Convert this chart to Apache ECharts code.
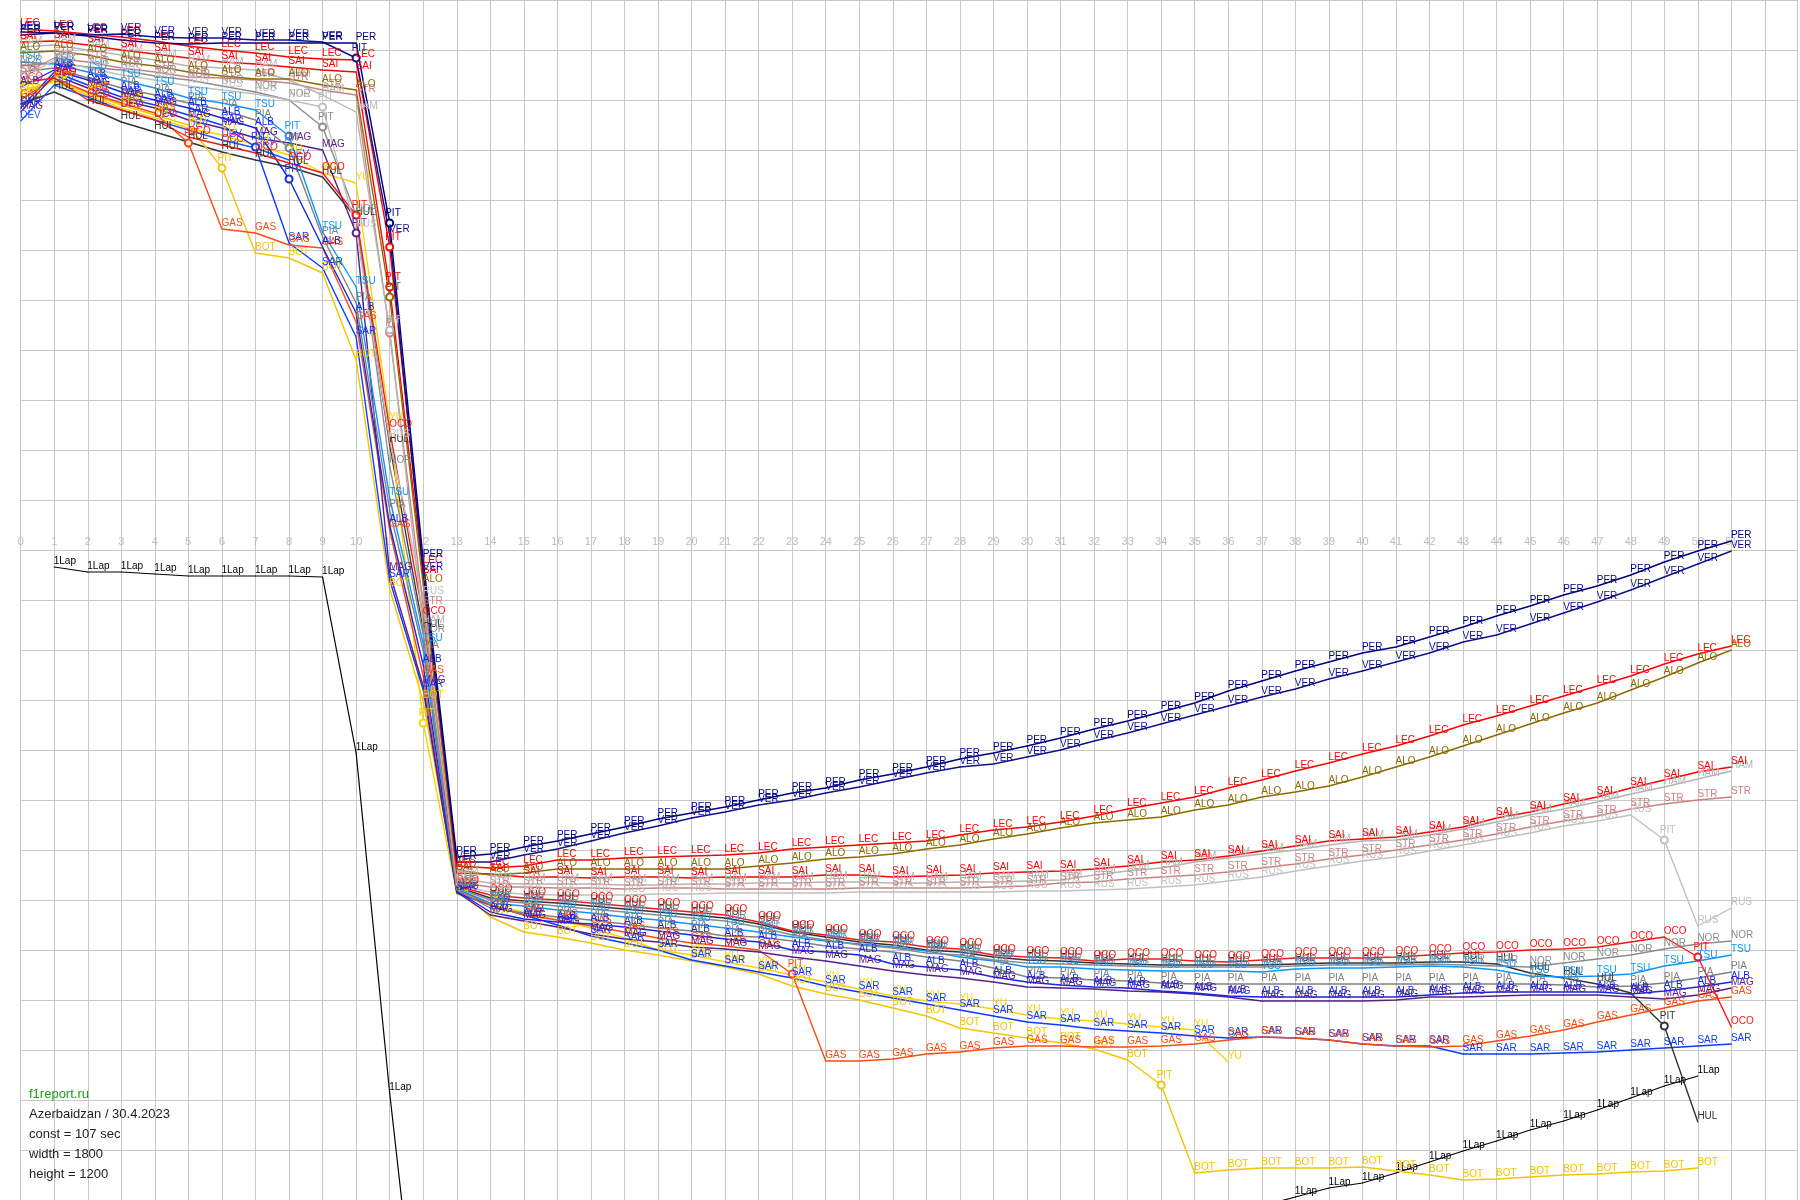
<!DOCTYPE html>
<html><head><meta charset="utf-8">
<script src="https://cdn.jsdelivr.net/npm/echarts@6/dist/echarts.min.js"></script>
<style>html,body{margin:0;padding:0;background:#fff}#c{width:1800px;height:1200px}</style>
</head><body><div id="c"></div>
<script>
// y = seconds behind the reference (cumulative time - 107 s * lap), lap index = array index
const PER = [-103,-103.4,-102.8,-102,-101.4,-101.2,-101.4,-101.4,-101.4,-101.4,-101.4,-65.4,2,61.4,60.8,59.4,58.2,56.8,55.4,53.8,52.6,51.4,50,48.6,47.6,46,44.8,43.4,41.8,40.6,39.2,37.6,35.8,34.2,32.4,30.6,28.2,26.2,24.2,22.4,20.6,19.4,17.4,15.4,13.2,11.2,9,7.2,5,2.4,0.2,-1.8];
const VER = [-103.6,-103.4,-103,-103.2,-102.6,-102.4,-102.4,-102,-102,-101.6,-98.4,-63,4.6,62.4,62.4,61,59.8,58.2,56.6,55.2,53.6,52.4,51,50,48.6,47.4,46,44.6,43.4,42.8,41.4,40,38.2,36.6,34.8,33,31.2,29.4,27.8,25.8,24.2,22.4,20.6,18.4,17,14.8,12.6,10.4,8,5.4,2.8,0.2];
const LEC = [-104.2,-103.8,-103.2,-102.6,-101.8,-100.8,-100,-99.4,-98.6,-98.2,-98,-60.6,3.2,63.2,63.6,63.2,62,62,61.6,61.4,61.2,61,60.6,59.8,59.4,59,58.6,58.2,57,56,55.4,54.4,53.2,51.8,50.6,49.4,47.6,46,44.2,42.6,40.8,39.2,37.2,35,33.2,31.2,29.2,27.2,25.2,22.8,20.8,19.2];
const SAI = [-101.6,-101.8,-101,-100,-99.2,-98.4,-97.6,-97.2,-96.6,-96,-95.6,-52.6,5.2,64.6,64.8,65.4,65.4,65.6,65.4,65.4,65.6,65.4,65.4,65.4,65,65,65.4,65.2,65,64.6,64.4,64.2,63.8,63.2,62.4,62,61.2,60.2,59.2,58.2,57.8,57.4,56.4,55.4,53.6,52.4,50.8,49.4,47.6,46,44.4,43.4];
const ALO = [-99.4,-99.8,-99,-97.6,-96.8,-95.6,-94.8,-94.2,-94.2,-93,-92,-50.6,7,64,65,64.6,63.8,63.8,63.8,63.8,63.8,63.8,63.2,62.6,61.8,61.4,60.8,59.8,59,57.8,56.8,55.6,54.6,54,53.4,52,51,49.4,48.4,47.2,45.4,43.4,41.4,39.2,37,34.8,32.6,30.6,28,25.4,22.6,20];
const HAM = [-100.6,-101,-100,-99,-98,-96.8,-96.4,-96,-94,-91,-87.6,-44,15.2,65.6,66.6,66.8,66.8,66.8,67,67,66.8,66.8,66.6,66.6,66.4,66.4,66.6,66.6,66.4,66.4,66.2,66,65,64.2,63.6,62.4,61.6,60.8,60,59,58.2,58,57,55.8,54.4,53,51.8,50.4,48.8,47.4,45.8,44.2];
const RUS = [-94.2,-98,-96.4,-95,-94,-92.8,-92,-91.2,-90,-88.6,-64,-22,9.4,67,68.4,68.8,69,69,69,68.8,68.8,68.6,68.6,68.6,68.6,68.4,68.4,68.4,68.4,68.4,68.2,68.2,68,67.8,67.4,67,66.2,65.4,64.2,63.2,62.2,61.4,60.2,59,57.8,56.6,55.2,54.2,53,58,75.2,71.6];
const STR = [-95,-98.4,-97.6,-96.4,-95.6,-94.6,-94.4,-94,-93.4,-92,-91,-43.4,11.4,66.4,67.4,67.4,67.6,67.6,67.8,67.6,67.6,67.8,67.8,67.8,67.8,67.6,67.6,67.6,67.6,67.4,67.2,66.6,66.4,65.8,65.4,65,64.4,63.6,62.8,61.8,61,60,59,58,56.8,55.4,54.2,53.2,51.8,50.8,50,49.4];
const NOR = [-96.8,-97.4,-96.6,-96,-94.8,-94,-92.8,-91.6,-90,-84.6,-67,-16.8,17,67.6,70,70.6,71.2,71.8,72.4,73,73.6,74.2,75.4,77,78,79,79.6,80.6,81,82,82.6,82.8,83,83.2,83.4,83.4,83.4,83.4,83.2,83,83,83,82.8,83,83.2,83.4,82.6,81.8,81,79.8,78.8,78.2];
const HUL = [-89.2,-91.6,-88.6,-85.6,-83.6,-81.6,-79.6,-78,-76.6,-74.6,-66.4,-21,16,67.4,69.6,70.2,70.6,71.2,71.8,72.4,73,73.6,74.8,76.4,77.4,78.4,79,80,80.4,81.4,82,82.2,82.6,82.8,83,83,83,83,82.8,82.6,82.6,82.6,82.4,82.4,82.8,84.6,85.6,86.8,88.6,95.2,114.4];
const OCO = [-93.4,-94.4,-90,-88,-86,-82.6,-81,-79.4,-77.4,-75.4,-67,-24,13.4,67.2,69,69.6,70,70.6,71.2,71.8,72.4,73,74.4,76.2,77,78,78.4,79.4,79.8,81,81.4,81.6,82.2,81.8,81.8,82.2,82.4,82,81.6,81.6,81.6,81.4,81,80.6,80.4,80,79.8,79.4,78.4,77.4,81.4,95.4];
const TSU = [-97.6,-97.2,-95.6,-94,-92.4,-90.4,-89.4,-88,-82.8,-63.6,-52.6,-10.4,18.8,67.8,70.6,71.2,72,72.6,73.4,74,74.8,75.6,76.4,77.4,78.2,78.8,79.4,80.2,81.4,82.2,83.4,83.4,83.8,84,84.2,84.2,84.2,84.4,83.8,83.6,83.6,83.4,83.2,83.4,84,85.2,85.4,85.2,84.8,83.2,82.2,81];
const PIA = [-95.6,-96.4,-94.4,-92.4,-91,-89.4,-88,-86,-80.4,-62.6,-49.4,-8,20.2,68,71.6,72.6,73.4,74,74.8,75.6,76.2,77.2,77.4,78.2,79.2,79.8,80.4,81.4,82.2,83.6,85.4,85.6,86,86.2,86.6,86.8,86.8,86.8,86.8,86.8,86.8,86.8,86.8,86.8,86.8,86.8,87,87.4,87.2,86.6,85.6,84.4];
const ALB = [-92.6,-96,-94,-91.6,-90,-88.4,-86.4,-84.4,-74.2,-60.6,-47.4,-5,23,68.2,72.4,73.8,74.4,74.8,75.4,76.2,77,77.8,78.4,80,80.4,81,82.8,83.4,84,85.4,86.4,87,87.4,87.6,88.2,88.6,89.2,89.4,89.4,89.4,89.4,89.4,89,88.6,88.4,88.4,88.4,88.4,88.8,88.2,87.4,86.4];
const MAG = [-87.6,-95,-92.4,-90,-88.4,-86,-84.4,-82.4,-81.4,-80,-63.4,4.6,27.2,68.4,73,74.2,75.4,76.8,77.8,78.4,79.4,79.8,80.4,81.4,82.2,83.2,84.2,85,85.6,86.4,87.4,87.6,87.8,88.2,88.4,88.8,89.4,90.2,90.2,90.2,90.2,90,89.4,89.4,89.2,89,89,89,89.4,89.8,89,87.6];
const GAS = [-90,-94.4,-91.6,-89.4,-87.4,-81.4,-64.2,-63.4,-61,-60.4,-45.6,-4,25.2,67.8,71,73,74,75.2,76.4,77.6,78.6,79.2,80,84.8,102.2,102.2,101.8,100.8,100.4,99.6,99.2,99.2,99.4,99.4,99.2,98.8,98,97.4,97.6,98,98.8,99.2,99.4,99.2,98.2,97.2,96,94.4,93,91.6,90.2,89.4];
const SAR = [-88.4,-95.6,-93,-90.6,-89,-87,-85,-80.6,-61.4,-56.4,-42.6,6,28,68.6,71,73,75,77.2,78.6,80,82,83.2,84.4,85.6,87.2,88.4,89.6,90.8,92,93.2,94.4,95,95.8,96.2,96.6,97.2,97.6,97.4,97.6,98,98.8,99.2,99.2,100.8,100.8,100.8,100.6,100.4,100,99.6,99.2,98.8];
const ZHO = [-91.8,-93.6,-91,-88.4,-86.4,-84.4,-83,-81,-79,-75.4,-73.4,-25.4,34.6,68.8,71,72.4,74,75.6,77.6,80,81,82.4,83.6,85,86.4,87.8,89.2,90.2,90.8,91.8,93,93.8,94.2,94.8,95.4,96,102.4];
const BOT = [-91,-94,-91.4,-89,-87,-85,-76.4,-59.4,-58.4,-55.4,-38,7.8,30.2,67.6,73.4,76.4,77.4,78.6,80,81,82.2,83.4,84.8,87.2,88.8,90,91.6,93.2,95.6,96.6,97.6,98.6,99.8,102,107,124.6,124,123.6,123.6,123.6,123.4,124.2,125,126,125.8,125.4,125,124.8,124.4,124.2,123.6];
const DEV = [-85.8,-93,-90.6,-88,-86,-84,-82,-80.4,-78];
const ONE_LAP = [null,3.4,4.4,4.4,4.8,5.2,5.2,5.2,5.2,5.4,40.6,108.6,168.4,167.8,166.4,165.2,163.8,162.4,160.8,159.6,158.4,157,155.6,154.6,153,151.8,150.4,148.8,147.6,146.2,144.6,142.8,141.2,139.4,137.6,135.2,133.2,131.2,129.4,127.6,126.6,124.6,122.4,120.2,118.2,116,114.2,112,109.6,107.2,105.2];

// pit-stop laps
const PITS = {VER:[10],PER:[11],LEC:[11],SAI:[11],ALO:[11],HAM:[11],STR:[11],RUS:[9,49],NOR:[9],TSU:[8],PIA:[8],ALB:[8],SAR:[7],BOT:[6,34],GAS:[5,23],MAG:[10],OCO:[10,50],HUL:[49],ZHO:[12],DEV:[]};
const LAP_TICKS = 51;

const drivers = [
  ['HUL', HUL, '#333333','HUL'],
  ['DEV', DEV, '#1e5aff','DEV'],
  ['BOT', BOT, '#f5c400','BOT'],
  ['ZHO', ZHO, '#ffd200','YU'],
  ['SAR', SAR, '#0a3cff','SAR'],
  ['GAS', GAS, '#ff4a10','GAS'],
  ['MAG', MAG, '#5a1e8c','MAG'],
  ['ALB', ALB, '#1428e6','ALB'],
  ['PIA', PIA, '#808080','PIA'],
  ['TSU', TSU, '#0a96ff','TSU'],
  ['NOR', NOR, '#8c8c8c','NOR'],
  ['OCO', OCO, '#ff1414','OCO'],
  ['RUS', RUS, '#c0c0c0','RUS'],
  ['STR', STR, '#cc8080','STR'],
  ['HAM', HAM, '#b4b4b4','HAM'],
  ['SAI', SAI, '#ff0000','SAI'],
  ['ALO', ALO, '#8c6a00','ALO'],
  ['LEC', LEC, '#ff0000','LEC'],
  ['VER', VER, '#10108c','VER'],
  ['PER', PER, '#000080','PER']
];

const labelFont = {fontSize: 10, fontFamily: 'Liberation Sans, DejaVu Sans, sans-serif'};

const series = drivers.map(([code, arr, color, tag]) => {
  const pits = PITS[code] || [];
  return {
    type: 'line', name: code, animation: false, clip: true,
    showAllSymbol: true, symbol: 'circle', symbolSize: 1,
    lineStyle: {color: color, width: 1.4},
    itemStyle: {color: color},
    label: Object.assign({show: true, position: [0, -10], color: color, formatter: tag}, labelFont),
    emphasis: {disabled: true},
    data: arr.map((v, i) => v == null ? null : (pits.includes(i)
      ? {value: [i, v], symbol: 'emptyCircle', symbolSize: 7, itemStyle: {color: color, borderColor: color, borderWidth: 1.3}, label: {formatter: 'PIT'}}
      : [i, v]))
  };
});

series.unshift({
  type: 'line', name: '1Lap', animation: false, clip: true,
  showAllSymbol: true, symbol: 'circle', symbolSize: 1,
  lineStyle: {color: '#000', width: 1.2}, itemStyle: {color: '#000'},
  label: Object.assign({show: true, position: [0, -10], color: '#000',
    formatter: p => p.value[1] > 129.6 ? '' : '1Lap'}, labelFont),
  emphasis: {disabled: true},
  data: ONE_LAP.map((v, i) => v == null ? null : [i, v])
});

const infoLines = [
  ['f1report.ru', '#1e9e1e'],
  ['Azerbaidzan / 30.4.2023', '#222'],
  ['const = 107 sec', '#222'],
  ['width = 1800', '#222'],
  ['height = 1200', '#222']
];

const chart = echarts.init(document.getElementById('c'), null, {renderer: 'canvas'});
chart.setOption({
  backgroundColor: '#ffffff',
  animation: false,
  title: infoLines.map((t, k) => ({
    text: t[0], left: 29, top: 1088 + k * 20, padding: 0,
    textStyle: {color: t[1], fontSize: 13, fontWeight: 'normal', fontFamily: 'Liberation Sans, DejaVu Sans, sans-serif'}
  })),
  grid: {left: 20.7, right: 0, top: 0, bottom: 0, containLabel: false},
  xAxis: {
    type: 'value', min: 0, max: 52.955, interval: 1, position: 'top', offset: -550,
    axisLine: {show: false, onZero: false},
    axisTick: {show: false},
    axisLabel: {show: true, margin: 3, color: '#bdbdbd', fontSize: 11, fontFamily: 'Liberation Sans, DejaVu Sans, sans-serif',
      formatter: v => (Number.isInteger(v) && v <= LAP_TICKS) ? String(v) : ''},
    splitLine: {show: true, lineStyle: {color: '#c8c8c8', width: 1}}
  },
  yAxis: {
    type: 'value', inverse: true, min: -110, max: 130, interval: 10,
    axisLine: {show: false}, axisTick: {show: false}, axisLabel: {show: false},
    splitLine: {show: true, lineStyle: {color: '#c8c8c8', width: 1}}
  },
  series: series
});
</script></body></html>
